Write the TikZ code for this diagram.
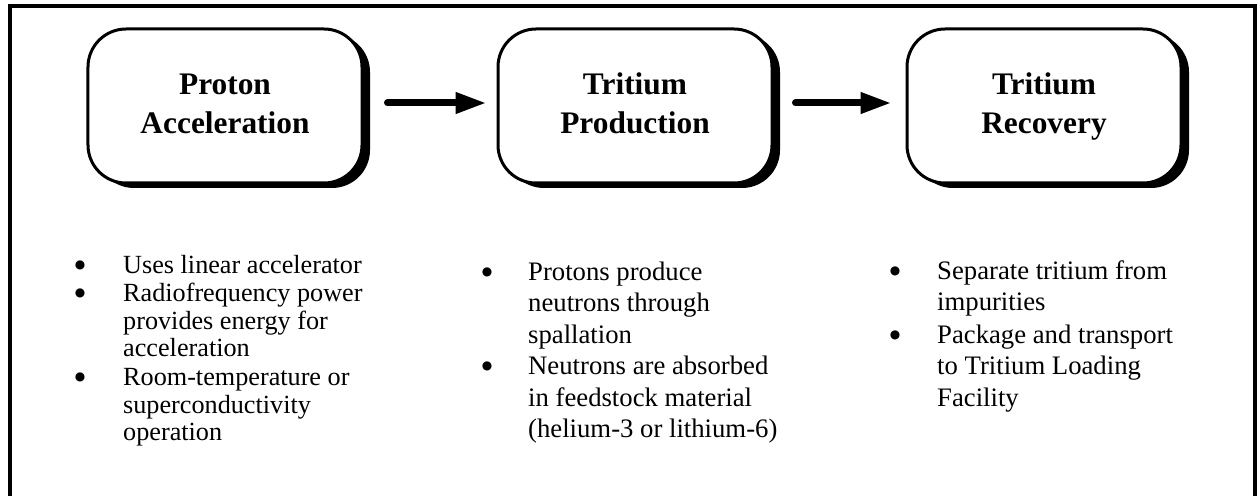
\documentclass[tikz,border=0pt]{standalone}
\usepackage{fontspec}
\setmainfont{Liberation Serif}
\newfontfamily\dotfont{DejaVu Sans}
\usetikzlibrary{arrows.meta}
\tikzset{
  stagebox/.style={draw=black, line width=3bp, fill=white, rounded corners=38bp,
    minimum width=274bp, minimum height=154bp, inner sep=0pt, align=center,
    font=\fontsize{31.5}{40}\selectfont\bfseries},
  shadowbox/.style={fill=black, rounded corners=38bp, minimum width=274bp,
    minimum height=154bp, inner sep=0pt},
  flowarrow/.style={line width=7bp, line cap=round, -{Triangle[length=31bp,width=20bp]}},
  bulletdot/.style={anchor=center, inner sep=0pt, font=\dotfont\fontsize{12}{12}\selectfont},
  itemA/.style={anchor=north west, inner sep=0pt, align=left, font=\fontsize{26.3}{28}\selectfont},
  itemB/.style={anchor=north west, inner sep=0pt, align=left, font=\fontsize{26.8}{31.6}\selectfont},
  frameline/.style={line width=4bp}
}
\begin{document}
\begin{tikzpicture}[x=1bp,y=-1bp]
\useasboundingbox (0,0) rectangle (1258,496);
% outer frame (bottom edge lies below the picture)
\begin{scope}
\clip (0,0) rectangle (1258,496);
\draw[frameline] (10,6) rectangle (1255,520);
\end{scope}
% shadows
\node[shadowbox] (s1) at (233,111) {};
\node[shadowbox] (s2) at (643,111) {};
\node[shadowbox] (s3) at (1052,111) {};
% boxes
\node[stagebox] (b1) at (225,106) {\strut Proton\\\strut Acceleration};
\node[stagebox] (b2) at (635,106) {\strut Tritium\\\strut Production};
\node[stagebox] (b3) at (1044,106) {\strut Tritium\\\strut Recovery};
% arrows
\draw[flowarrow] ([xshift=24bp,yshift=3bp]b1.east) -- ([xshift=-10bp,yshift=3bp]b2.west);
\draw[flowarrow] ([xshift=22bp,yshift=3bp]b2.east) -- ([xshift=-14bp,yshift=3bp]b3.west);
% column 1
\node[bulletdot] (d11) at (80,265) {●};
\node[itemA] (t11) at (123,253.4) {\strut Uses linear accelerator};
\node[bulletdot] (d12) at (80,293) {●};
\node[itemA] (t12) at (123,281.4) {\strut Radiofrequency power\\provides energy for\\acceleration};
\node[bulletdot] (d13) at (80,377) {●};
\node[itemA] (t13) at (123,365.4) {\strut Room-temperature or\\superconductivity\\operation};
% column 2
\node[bulletdot] (d21) at (487,272) {●};
\node[itemB] (t21) at (528,257.9) {\strut Protons produce\\neutrons through\\spallation};
\node[bulletdot] (d22) at (487,366.8) {●};
\node[itemB] (t22) at (528,352.7) {\strut Neutrons are absorbed\\in feedstock material\\(helium-3 or lithium-6)};
% column 3
\node[bulletdot] (d31) at (895,271) {●};
\node[itemB] (t31) at (937,256.9) {\strut Separate tritium from\\impurities};
\node[bulletdot] (d32) at (895,335) {●};
\node[itemB] (t32) at (937,320.9) {\strut Package and transport\\to Tritium Loading\\Facility};
\end{tikzpicture}
\end{document}
